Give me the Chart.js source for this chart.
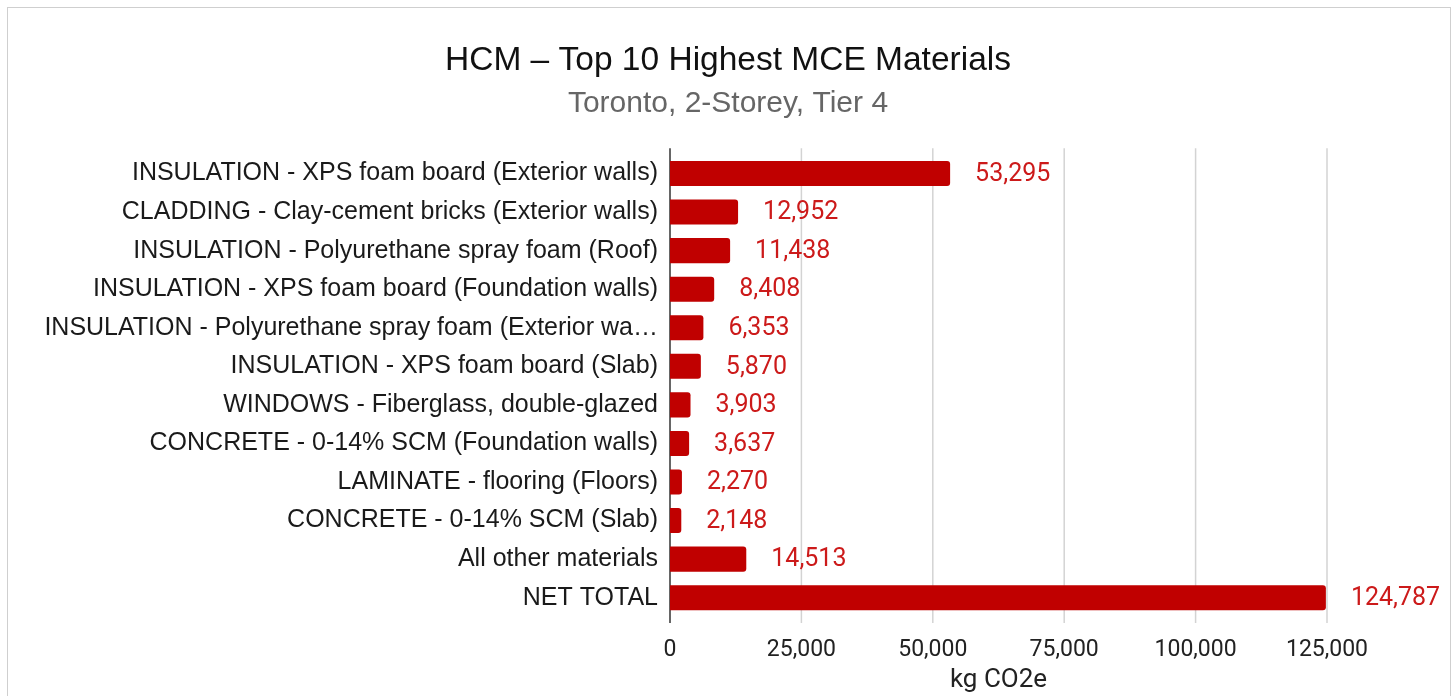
<!DOCTYPE html>
<html>
<head>
<meta charset="utf-8">
<script src="https://cdn.jsdelivr.net/npm/chart.js@4"></script>
<style>
    body { margin: 0; background: #fff; }
    .frame { position: absolute; left: 7px; top: 7px; width: 1442px; height: 720px; border: 1px solid #cfcfcf; pointer-events: none; }
    #chartWrap { position: absolute; left: 0; top: 0; width: 1456px; height: 696px; }
</style>
</head>
<body>
<div id="chartWrap"><canvas id="barChart"></canvas></div>
<div class="frame"></div>
<script>
//============================================= Data =============================================//
const materials = [
    'INSULATION - XPS foam board (Exterior walls)',
    'CLADDING - Clay-cement bricks (Exterior walls)',
    'INSULATION - Polyurethane spray foam (Roof)',
    'INSULATION - XPS foam board (Foundation walls)',
    'INSULATION - Polyurethane spray foam (Exterior walls)',
    'INSULATION - XPS foam board (Slab)',
    'WINDOWS - Fiberglass, double-glazed',
    'CONCRETE - 0-14% SCM (Foundation walls)',
    'LAMINATE - flooring (Floors)',
    'CONCRETE - 0-14% SCM (Slab)',
    'All other materials',
    'NET TOTAL'
];
const emissions = [53295, 12952, 11438, 8408, 6353, 5870, 3903, 3637, 2270, 2148, 14513, 124787];
const xTicks = [0, 25000, 50000, 75000, 100000, 125000];

const fmt = (v) => v.toLocaleString('en-US');

//============================================= Grid (a bit taller than the bars) =============================================//
const tallGrid = {
    id: 'tallGrid',
    beforeDatasetsDraw(chart) {
        const { ctx, chartArea } = chart;
        const x = chart.scales.x;
        const top = chartArea.top - 6;
        const bottom = chartArea.bottom + 6;
        ctx.save();
        ctx.lineWidth = 1.5;
        ctx.strokeStyle = '#d3d3d3';
        xTicks.slice(1).forEach(v => {
            const px = x.getPixelForValue(v);
            ctx.beginPath();
            ctx.moveTo(px, top);
            ctx.lineTo(px, bottom);
            ctx.stroke();
        });
        ctx.strokeStyle = '#333';
        const x0 = x.getPixelForValue(0);
        ctx.beginPath();
        ctx.moveTo(x0, top);
        ctx.lineTo(x0, bottom);
        ctx.stroke();
        ctx.restore();
    }
};

//============================================= Value labels =============================================//
const barValueLabel = {
    id: 'barValueLabel',
    afterDatasetsDraw(chart) {
        const { ctx } = chart;
        const meta = chart.getDatasetMeta(0);
        ctx.save();
        ctx.font = '25px Roboto, sans-serif';
        ctx.fillStyle = '#cc1a1a';
        ctx.textAlign = 'left';
        ctx.textBaseline = 'middle';
        meta.data.forEach((bar, i) => {
            ctx.fillText(fmt(emissions[i]), bar.x + 25, bar.y + 1);
        });
        ctx.restore();
    }
};

//============================================= Bar chart =============================================//
const barConfig = {
    type: 'bar',
    data: {
        labels: materials,
        datasets: [{
            data: emissions,
            backgroundColor: '#c00000',
            borderRadius: { topRight: 3, bottomRight: 3 },
            borderSkipped: 'start',
            barPercentage: 0.65,
            categoryPercentage: 1
        }]
    },
    options: {
        indexAxis: 'y',
        responsive: false,
        animation: false,
        layout: {
            padding: { left: 8, right: 8, top: 21, bottom: 0 }
        },
        plugins: {
            legend: { display: false },
            tooltip: { enabled: false },
            title: {
                display: true,
                text: 'HCM – Top 10 Highest MCE Materials',
                color: '#111',
                font: { family: 'Liberation Sans, Arial, sans-serif', size: 33.5, weight: 'normal' },
                padding: { top: 20, bottom: 5 }
            },
            subtitle: {
                display: true,
                text: 'Toronto, 2-Storey, Tier 4',
                color: '#666',
                font: { family: 'Liberation Sans, Arial, sans-serif', size: 30 },
                padding: { top: 0, bottom: 32 }
            }
        },
        scales: {
            x: {
                min: 0,
                max: 125000,
                afterBuildTicks: (scale) => {
                    scale.ticks = xTicks.map(v => ({ value: v }));
                },
                afterFit: (scale) => { scale.height = 79; },
                grid: { display: false },
                border: { display: false },
                ticks: {
                    color: '#222',
                    padding: 11,
                    font: { family: 'Roboto, sans-serif', size: 23 },
                    callback: (v) => fmt(v)
                },
                title: {
                    display: true,
                    text: 'kg CO2e',
                    color: '#222',
                    padding: { top: 3, bottom: 0 },
                    font: { family: 'Roboto, sans-serif', size: 26 }
                }
            },
            y: {
                afterFit: (scale) => { scale.width = 662; },
                grid: { display: false },
                border: { display: false },
                ticks: {
                    color: '#1a1a1a',
                    padding: 4,
                    autoSkip: false,
                    font: { family: 'Liberation Sans, Arial, sans-serif', size: 25 },
                    callback: function (v, i) {
                        const s = materials[i];
                        return s.length > 50 ? s.slice(0, 49) + '…' : s;
                    }
                }
            },
            // empty right-hand axis: keeps room for the value labels past 125,000
            yRight: {
                type: 'linear',
                position: 'right',
                afterFit: (scale) => { scale.width = 121; },
                grid: { display: false },
                border: { display: false },
                ticks: { display: false }
            }
        }
    },
    plugins: [tallGrid, barValueLabel]
};

const cv = document.getElementById('barChart');
cv.width = 1456;
cv.height = 696;
new Chart(cv, barConfig);
</script>
</body>
</html>
